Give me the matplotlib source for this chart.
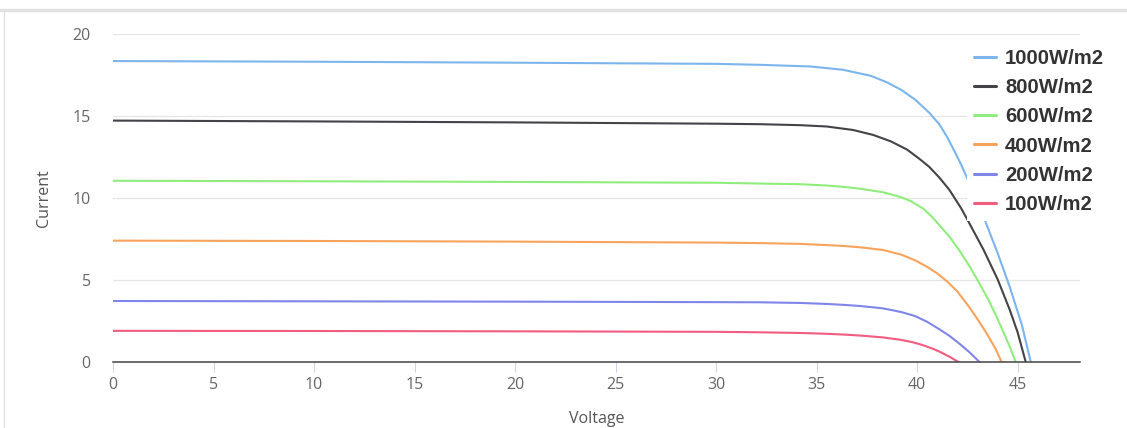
import matplotlib
matplotlib.use("Agg")
import matplotlib.pyplot as plt
from matplotlib.lines import Line2D

# ---------------- data ----------------
labels = ["1000W/m2", "800W/m2", "600W/m2", "400W/m2", "200W/m2", "100W/m2"]
colors = ["#7cb5ec", "#434348", "#90ed7d", "#f7a35c", "#8085e9", "#f15c80"]

v_1000 = [0, 10, 20, 30, 32.2, 34.7, 36.3, 37.7, 38.5, 39.2, 39.9, 40.6, 41.1, 41.5, 41.9,
          42.2, 42.6, 43.0, 43.4, 44.0, 44.6, 45.2, 45.65]
i_1000 = [18.35, 18.31, 18.25, 18.18, 18.12, 18.02, 17.82, 17.45, 17.05, 16.6, 16.0, 15.2, 14.5,
          13.7, 12.75, 12.0, 10.9, 9.75, 8.55, 6.65, 4.6, 2.3, 0]

v_800 = [0, 10, 20, 30, 32.2, 34.2, 35.5, 36.8, 37.8, 38.7, 39.5, 40.1, 40.6, 41.1, 41.6,
         42.2, 42.6, 43.3, 44.0, 44.6, 45.0, 45.4]
i_800 = [14.72, 14.67, 14.61, 14.53, 14.5, 14.44, 14.36, 14.15, 13.85, 13.45, 12.95, 12.4, 11.9,
         11.25, 10.5, 9.35, 8.45, 6.85, 5.05, 3.2, 1.8, 0]

v_600 = [0, 10, 20, 30, 32.2, 34.2, 35.5, 36.5, 37.2, 38.3, 39.2, 39.7, 40.3, 40.7, 41.1,
         41.6, 42.1, 42.6, 43.0, 43.5, 43.9, 44.3, 44.6, 44.9]
i_600 = [11.05, 11.02, 10.98, 10.93, 10.88, 10.84, 10.76, 10.66, 10.56, 10.35, 10.05, 9.8, 9.35,
         8.9, 8.35, 7.65, 6.8, 5.85, 5.0, 3.9, 2.9, 1.8, 0.95, 0]

v_400 = [0, 10, 20, 30, 32.2, 34.2, 35.5, 36.4, 37.2, 38.3, 39.2, 39.9, 40.5, 41.0, 41.5,
         42.0, 42.5, 42.9, 43.3, 43.6, 43.9, 44.2]
i_400 = [7.4, 7.38, 7.34, 7.28, 7.25, 7.2, 7.13, 7.07, 6.99, 6.83, 6.55, 6.2, 5.8, 5.4, 4.9,
         4.3, 3.5, 2.8, 2.05, 1.45, 0.8, 0]

v_200 = [0, 10, 20, 30, 32.2, 34.2, 35.5, 36.4, 37.2, 38.3, 39.2, 39.9, 40.5, 41.1, 41.6,
         42.1, 42.6, 43.1]
i_200 = [3.72, 3.7, 3.68, 3.65, 3.64, 3.6, 3.54, 3.48, 3.41, 3.27, 3.05, 2.8, 2.45, 2.0, 1.6,
         1.12, 0.6, 0]

v_100 = [0, 10, 20, 30, 32.2, 34.2, 35.5, 36.4, 37.2, 38.3, 39.2, 39.8, 40.3, 40.8, 41.2,
         41.6, 42.05]
i_100 = [1.9, 1.89, 1.87, 1.84, 1.81, 1.77, 1.72, 1.67, 1.61, 1.5, 1.35, 1.2, 1.02, 0.8, 0.58,
         0.33, 0]

voltages = [v_1000, v_800, v_600, v_400, v_200, v_100]
currents = [i_1000, i_800, i_600, i_400, i_200, i_100]

x_ticks = [0, 5, 10, 15, 20, 25, 30, 35, 40, 45]
y_ticks = [0, 5, 10, 15, 20]

# ---------------- figure ----------------
W, H = 1127, 428
fig = plt.figure(figsize=(W / 100, H / 100), dpi=100)
fig.patch.set_facecolor("white")

ax = fig.add_axes([113 / W, 1 - 362 / H, (1080 - 113) / W, (362 - 34) / H])
ax.set_xlim(0, 48.1)
ax.set_ylim(0, 20)

for v, c, col, lab in zip(voltages, currents, colors, labels):
    ax.plot(v, c, color=col, lw=1.5, label=lab, solid_capstyle="round",
            solid_joinstyle="round", antialiased=True, zorder=3)

tick_font = dict(family="Open Sans", size=11.5)
ax.set_xticks(x_ticks)
ax.set_yticks(y_ticks)
ax.set_xticklabels([str(t) for t in x_ticks], **tick_font, color="#666666")
ax.set_yticklabels([str(t) for t in y_ticks], **tick_font, color="#666666")
ax.tick_params(axis="x", length=7, width=0.8, color="#ccd6eb", pad=3.5)
ax.tick_params(axis="y", length=0, pad=16)

for s in ["top", "right", "left"]:
    ax.spines[s].set_visible(False)
ax.spines["bottom"].set_color("#444444")
ax.spines["bottom"].set_linewidth(1.1)
ax.spines["bottom"].set_zorder(4)

ax.yaxis.grid(True, color="#e6e6e6", lw=0.9)
ax.set_axisbelow(True)

ax.set_xlabel("Voltage", family="Open Sans", size=11.5, color="#555555", labelpad=13)
ax.set_ylabel("Current", family="Open Sans", size=11.5, color="#555555", labelpad=15)

leg = ax.legend(loc="upper left", bbox_to_anchor=(967 / W, 1 - 42 / H),
                bbox_transform=fig.transFigure,
                prop=dict(family="Liberation Sans", weight="bold", size=14.6),
                frameon=True, facecolor="white", edgecolor="none", framealpha=1,
                fancybox=False, borderpad=0.35, borderaxespad=0,
                handlelength=1.1, handletextpad=0.42, labelspacing=0.5)
leg.set_zorder(10)
for t in leg.get_texts():
    t.set_color("#333333")
for h in leg.get_lines():
    h.set_linewidth(2.2)

# container border (top and left)
fig.add_artist(Line2D([0, 1], [1 - 10 / H, 1 - 10 / H], transform=fig.transFigure,
                      color="#e2e2e2", lw=2.5))
fig.add_artist(Line2D([4 / W, 4 / W], [0, 1 - 10 / H], transform=fig.transFigure,
                      color="#e2e2e2", lw=1))

fig.savefig("out.png", dpi=100, facecolor="white")
